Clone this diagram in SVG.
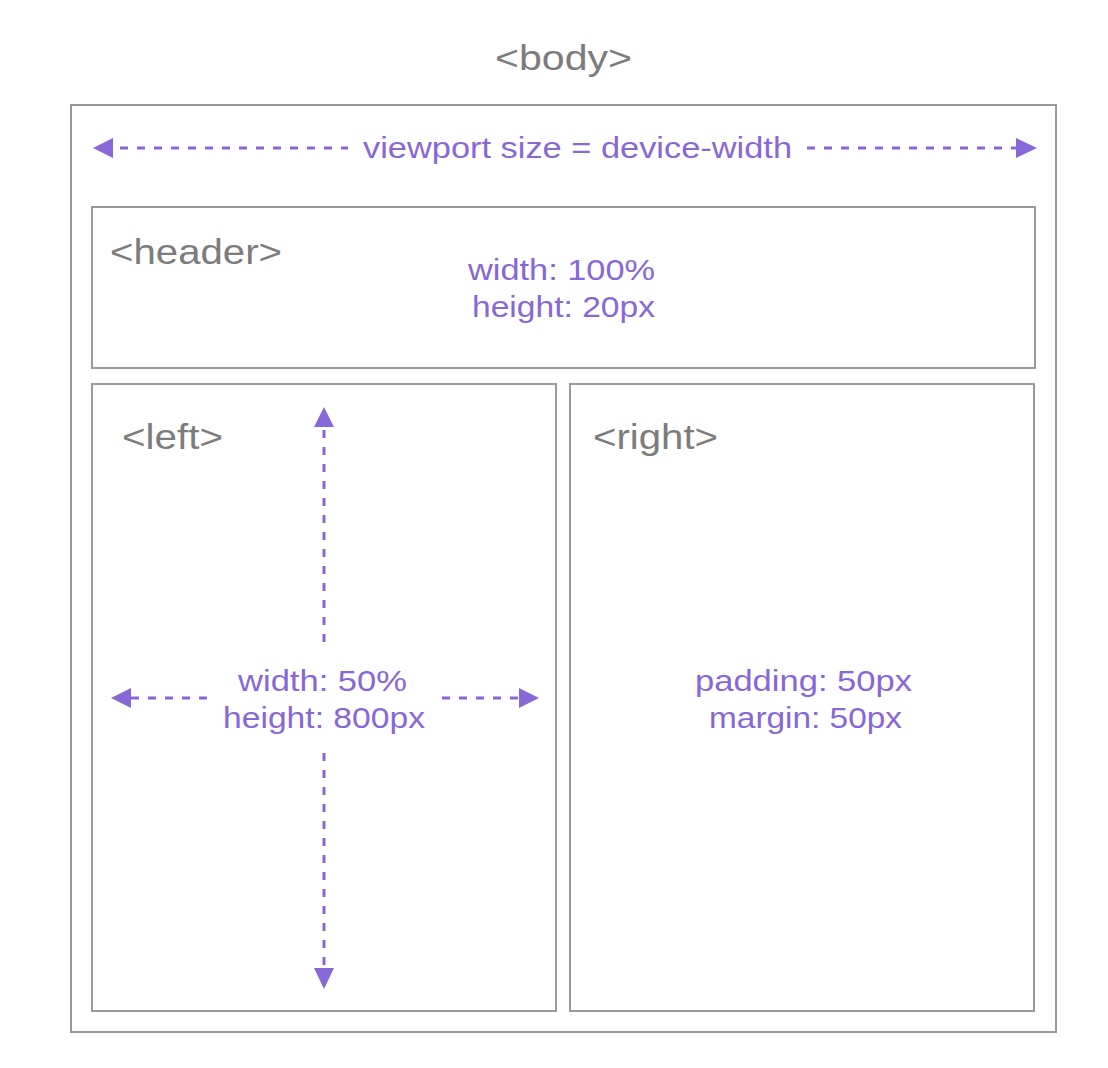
<svg xmlns="http://www.w3.org/2000/svg" width="1108" height="1068" viewBox="0 0 1108 1068">
<style>
.box{fill:none;stroke:#9a9a9a;stroke-width:2}
.tag{font-family:"Liberation Sans",Arial,sans-serif;font-size:35px;fill:#7c7c7c}
.lbl{font-family:"Liberation Sans",Arial,sans-serif;font-size:30px;fill:#8867d6}
.dash{stroke:#8867d6;stroke-width:3;fill:none;stroke-dasharray:8 9}
.head{fill:#8867d6}
</style>
<rect width="1108" height="1068" fill="#ffffff"/>
<g id="body">
<rect class="box" x="71" y="105" width="985" height="927"/>
<text class="tag" x="495" y="70" textLength="137" lengthAdjust="spacingAndGlyphs">&lt;body&gt;</text>
</g>
<g id="header">
<rect class="box" x="92" y="207" width="943" height="161"/>
<text class="tag" x="110" y="264" textLength="172" lengthAdjust="spacingAndGlyphs">&lt;header&gt;</text>
<text class="lbl" x="468" y="280" textLength="187" lengthAdjust="spacingAndGlyphs">width: 100%</text>
<text class="lbl" x="472" y="317" textLength="183" lengthAdjust="spacingAndGlyphs">height: 20px</text>
</g>
<g id="left">
<rect class="box" x="92" y="384" width="464" height="627"/>
<text class="tag" x="122" y="449" textLength="101" lengthAdjust="spacingAndGlyphs">&lt;left&gt;</text>
<text class="lbl" x="238" y="691" textLength="169" lengthAdjust="spacingAndGlyphs">width: 50%</text>
<text class="lbl" x="223" y="728" textLength="202" lengthAdjust="spacingAndGlyphs">height: 800px</text>
</g>
<g id="right">
<rect class="box" x="570" y="384" width="464" height="627"/>
<text class="tag" x="593" y="449" textLength="125" lengthAdjust="spacingAndGlyphs">&lt;right&gt;</text>
<text class="lbl" x="695" y="691" textLength="217" lengthAdjust="spacingAndGlyphs">padding: 50px</text>
<text class="lbl" x="709" y="728" textLength="193" lengthAdjust="spacingAndGlyphs">margin: 50px</text>
</g>
<g id="viewport-label">
<text class="lbl" x="363" y="158" textLength="429" lengthAdjust="spacingAndGlyphs">viewport size = device-width</text>
</g>
<g id="connectors">
<line class="dash" x1="120" y1="148" x2="348" y2="148"/>
<polygon class="head" points="93,148 113,138 113,158"/>
<line class="dash" x1="807" y1="148" x2="1016" y2="148"/>
<polygon class="head" points="1037,148 1016,138 1016,158"/>
<line class="dash" x1="324" y1="430" x2="324" y2="643"/>
<polygon class="head" points="324,407 314,427 334,427"/>
<line class="dash" x1="324" y1="753" x2="324" y2="968"/>
<polygon class="head" points="324,989 314,968 334,968"/>
<line class="dash" x1="131" y1="698" x2="207" y2="698"/>
<polygon class="head" points="111,698 131,688 131,708"/>
<line class="dash" x1="442" y1="698" x2="519" y2="698"/>
<polygon class="head" points="539,698 519,688 519,708"/>
</g>
</svg>
